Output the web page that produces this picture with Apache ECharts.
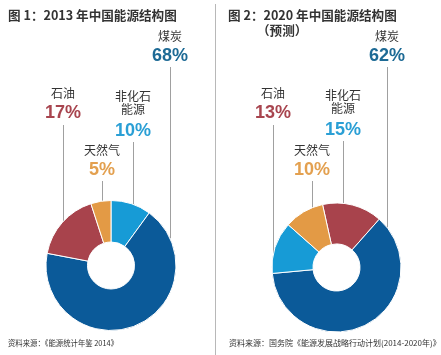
<!DOCTYPE html>
<html>
<head>
<meta charset="utf-8">
<script src="https://cdn.jsdelivr.net/npm/echarts@6/dist/echarts.min.js"></script>
<style>
html,body{margin:0;padding:0;background:#fff;}
#chart{width:441px;height:355px;}
</style>
</head>
<body>
<div id="chart"></div>
<script>
// ---- data ----
const titles = ['图 1：2013 年中国能源结构图', '图 2：2020 年中国能源结构图'];
const subtitle2 = '（预测）';
const sources = ['资料来源：《能源统计年鉴 2014》', '资料来源：国务院《能源发展战略行动计划(2014-2020年)》'];
const categories = ['煤炭', '石油', '天然气', '非化石能源'];
const labelNames = ['煤炭', '石油', '天然气', '非化石\n能源'];
const share2013 = [68, 17, 5, 10];          // printed labels, 2013
const share2020 = [62, 13, 10, 15];         // printed labels, 2020
// slices in clockwise drawing order (as drawn in the picture)
const sliceOrder2013 = ['非化石能源', '煤炭', '石油', '天然气'];
const sliceVals2013 = [10, 68, 17, 5];
const sliceOrder2020 = ['石油', '煤炭', '非化石能源', '天然气'];
const sliceVals2020 = [15, 62, 13, 10];     // slice sizes as drawn in the source graphic

// ---- styles ----
const sliceColor = {'煤炭': '#0b5a99', '石油': '#a8434c', '天然气': '#e39a45', '非化石能源': '#179bd6'};
const labelColor = {'煤炭': '#1d6a95', '石油': '#a8454f', '天然气': '#e3a04f', '非化石能源': '#2a9fd5'};
const CJK = '"Noto Sans CJK SC", sans-serif';
const NUM = '"Liberation Sans", Arial, sans-serif';

const pies = [
  {cx: 111, cy: 265.5, r0: 23.5, r: 65, start: 90, order: sliceOrder2013, vals: sliceVals2013, share: share2013,
   lab: {'煤炭': [170, 36, 67], '石油': [63, 93, 125], '天然气': [102, 150, 181], '非化石能源': [133, 103, 142]}},
  {cx: 336.5, cy: 267.5, r0: 23.5, r: 64.5, start: 102.5, order: sliceOrder2020, vals: sliceVals2020, share: share2020,
   lab: {'煤炭': [387, 36, 67], '石油': [273, 93, 125], '天然气': [312, 150, 181], '非化石能源': [343, 102, 141]}}
];

const graphic = [];
// divider
graphic.push({type: 'line', shape: {x1: 215.5, y1: 4, x2: 215.5, y2: 355}, style: {stroke: '#b8b8b8', lineWidth: 1}});
// titles
graphic.push({type: 'text', x: 8, y: 15, style: {text: titles[0], fill: '#333', font: 'bold 12.6px ' + CJK, verticalAlign: 'middle'}});
graphic.push({type: 'text', x: 228, y: 15, style: {text: titles[1], fill: '#333', font: 'bold 12.6px ' + CJK, verticalAlign: 'middle'}});
graphic.push({type: 'text', x: 257, y: 30, style: {text: subtitle2, fill: '#333', font: 'bold 12.6px ' + CJK, verticalAlign: 'middle'}});
// sources
graphic.push({type: 'text', x: 8, y: 343, scaleX: 0.92, style: {text: sources[0], fill: '#333', font: '8px ' + CJK, verticalAlign: 'middle'}});
graphic.push({type: 'text', x: 229, y: 343, style: {text: sources[1], fill: '#333', font: '8px ' + CJK, verticalAlign: 'middle'}});

pies.forEach(p => {
  categories.forEach((c, i) => {
    const [x, ny, ly] = p.lab[c];
    const multi = labelNames[i].indexOf('\n') >= 0;
    graphic.push({type: 'text', x: x, y: ny, style: {text: labelNames[i], fill: '#333', font: '12px ' + CJK,
      align: 'center', verticalAlign: 'middle', lineHeight: 13}});
    const py = multi ? ny + 28 : ny + 20;
    graphic.push({type: 'text', x: x, y: py, style: {text: p.share[i] + '%', fill: labelColor[c], font: 'bold 18px ' + NUM,
      align: 'center', verticalAlign: 'middle'}});
    const dx = x - p.cx;
    const ey = p.cy - Math.sqrt(Math.max(0, p.r * p.r - dx * dx));
    graphic.push({type: 'line', z: -1, shape: {x1: x + 0.5, y1: ly, x2: x + 0.5, y2: ey}, style: {stroke: '#a0a0a0', lineWidth: 1}});
  });
});

const series = pies.map(p => ({
  type: 'pie',
  center: [p.cx, p.cy],
  radius: [p.r0, p.r],
  startAngle: p.start,
  clockwise: true,
  avoidLabelOverlap: false,
  silent: true,
  animation: false,
  label: {show: false},
  labelLine: {show: false},
  itemStyle: {borderColor: '#fff', borderWidth: 1},
  data: p.order.map((n, i) => ({name: n, value: p.vals[i], itemStyle: {color: sliceColor[n]}}))
}));

const chart = echarts.init(document.getElementById('chart'), null, {renderer: 'canvas'});
chart.setOption({
  backgroundColor: '#fff',
  animation: false,
  series: series,
  graphic: graphic
});
</script>
</body>
</html>
